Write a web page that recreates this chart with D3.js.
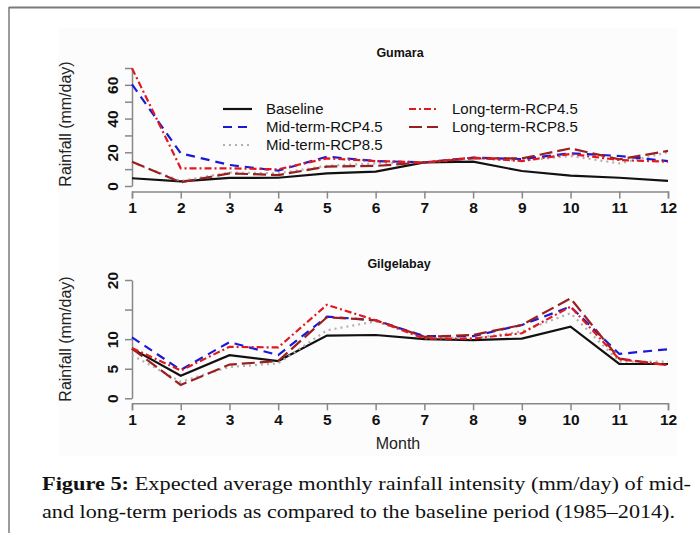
<!DOCTYPE html>
<html lang="en">
<head>
    <meta charset="UTF-8">
    <title>Expected average monthly rainfall intensity</title>
    <script src="https://d3js.org/d3.v7.min.js"></script>
    <style>
        body { margin: 0; background: #fff; }
        svg { display: block; }
        .tick-label { font-family: "Liberation Sans", Arial, sans-serif; font-size: 15.5px; font-weight: bold; fill: #111; }
        .ylab { font-family: "Liberation Sans", Arial, sans-serif; font-size: 16px; fill: #222; }
        .panel-title { font-family: "Liberation Sans", Arial, sans-serif; font-size: 12.5px; font-weight: bold; fill: #111; }
        .legend-text { font-family: "Liberation Sans", Arial, sans-serif; font-size: 15px; fill: #111; }
        .caption { font-family: "Liberation Serif", "Times New Roman", serif; font-size: 19px; fill: #111; }
    </style>
</head>
<body>
<svg id="chart" width="700" height="533"></svg>
<script>
// months on the x axis
const months = [1, 2, 3, 4, 5, 6, 7, 8, 9, 10, 11, 12];

// Gumara (mm/day)
const gumaraBaseline = [4.6, 2.8, 4.8, 4.9, 7.5, 8.5, 14.0, 14.4, 8.9, 6.1, 4.9, 3.0];
const gumaraMid45    = [60.3, 19.4, 12.5, 9.1, 17.4, 14.8, 14.0, 16.8, 16.0, 19.4, 17.8, 14.8];
const gumaraMid85    = [14.0, 3.0, 8.0, 7.5, 12.0, 13.4, 14.0, 16.5, 15.0, 17.8, 13.4, 20.0];
const gumaraLong45   = [69.8, 10.5, 10.5, 9.9, 16.4, 14.8, 14.0, 16.8, 14.8, 19.0, 15.4, 14.4];
const gumaraLong85   = [14.4, 2.2, 7.5, 6.5, 11.5, 11.9, 14.0, 16.4, 16.4, 22.3, 15.8, 20.8];

// Gilgelabay (mm/day)
const gilgelBaseline = [8.4, 3.8, 7.3, 6.3, 10.6, 10.7, 10.0, 9.85, 10.1, 12.1, 5.8, 5.8];
const gilgelMid45    = [10.3, 4.8, 9.5, 7.3, 13.8, 13.2, 10.5, 10.5, 12.4, 15.5, 7.5, 8.3];
const gilgelMid85    = [7.3, 2.8, 5.3, 5.9, 11.5, 13.0, 10.4, 10.1, 11.3, 14.4, 6.2, 6.2];
const gilgelLong45   = [8.5, 4.7, 8.7, 8.6, 15.8, 13.2, 10.1, 10.1, 11.0, 15.5, 6.6, 5.6];
const gilgelLong85   = [8.4, 2.25, 5.7, 6.3, 13.7, 13.2, 10.4, 10.7, 12.4, 16.9, 6.7, 5.6];

const seriesNames = ["Baseline", "Mid-term-RCP4.5", "Mid-term-RCP8.5", "Long-term-RCP4.5", "Long-term-RCP8.5"];

// line styles per series
const styles = {
    "Baseline":         { color: "#111111", dash: null,      width: 2.2 },
    "Mid-term-RCP4.5":  { color: "#1a1ad6", dash: "9,6",     width: 2.2 },
    "Mid-term-RCP8.5":  { color: "#b0b0b0", dash: "2,4",     width: 2.2 },
    "Long-term-RCP4.5": { color: "#e0191e", dash: "7,3,2,3", width: 2.2 },
    "Long-term-RCP8.5": { color: "#9a1f1f", dash: "13,5",    width: 2.2 }
};

const svg = d3.select("#chart");

// figure frame and plot image background
svg.append("rect").attr("x", 58).attr("y", 28).attr("width", 620).attr("height", 428).attr("fill", "#fcfcfc");
svg.append("line").attr("x1", 9).attr("x2", 700).attr("y1", 7.5).attr("y2", 7.5).attr("stroke", "#7a7a7a").attr("stroke-width", 2);
svg.append("line").attr("x1", 9).attr("x2", 9).attr("y1", 7).attr("y2", 533).attr("stroke", "#7a7a7a").attr("stroke-width", 1.5);

const x = d3.scaleLinear().domain([1, 12]).range([132, 668]);

function drawPanel(opts) {
    const g = svg.append("g");
    const y = opts.y;

    // x axis
    const xAxis = g.append("g")
        .attr("transform", `translate(0,${opts.xAxisY})`)
        .call(d3.axisBottom(x).tickValues(months).tickSize(7).tickFormat(d3.format("d")));
    xAxis.select(".domain").attr("stroke", "#888").attr("stroke-width", 1.5);
    xAxis.selectAll(".tick line").attr("stroke", "#888").attr("stroke-width", 1.5);
    xAxis.selectAll(".tick text").attr("class", "tick-label").attr("dy", "0.95em").attr("y", 7);

    // y axis
    const yAxis = g.append("g")
        .attr("transform", "translate(132,0)")
        .call(d3.axisLeft(y).tickValues(opts.yTicks).tickSize(7).tickSizeOuter(0)
            .tickFormat(d => opts.yLabels.includes(d) ? d : ""));
    yAxis.select(".domain").attr("stroke", "#888").attr("stroke-width", 1.5);
    yAxis.selectAll(".tick line").attr("stroke", "#888").attr("stroke-width", 1.5);
    yAxis.selectAll(".tick text")
        .attr("class", "tick-label")
        .attr("x", null)
        .attr("text-anchor", "middle")
        .attr("transform", "translate(-19,0) rotate(-90)")
        .attr("dy", "0.35em");

    // y label
    g.append("text")
        .attr("class", "ylab")
        .attr("text-anchor", "middle")
        .attr("transform", `translate(71,${opts.ylabY}) rotate(-90)`)
        .text("Rainfall (mm/day)");

    // title
    g.append("text")
        .attr("class", "panel-title")
        .attr("text-anchor", "middle")
        .attr("x", opts.titleX).attr("y", opts.titleY)
        .text(opts.title);

    const line = d3.line().x((d, i) => x(months[i])).y(d => y(d));

    const order = ["Baseline", "Mid-term-RCP8.5", "Mid-term-RCP4.5", "Long-term-RCP8.5", "Long-term-RCP4.5"];
    order.forEach(name => {
        const s = styles[name];
        g.append("path")
            .datum(opts.data[name])
            .attr("fill", "none")
            .attr("stroke", s.color)
            .attr("stroke-width", s.width)
            .attr("stroke-dasharray", s.dash)
            .attr("d", line);
    });
}

drawPanel({
    title: "Gumara", titleX: 400, titleY: 57,
    y: d3.scaleLinear().domain([0, 70]).range([186, 68]),
    yTicks: [0, 10, 20, 30, 40, 50, 60, 70],
    yLabels: [0, 20, 40, 60],
    xAxisY: 191.5, ylabY: 124,
    data: {
        "Baseline": gumaraBaseline,
        "Mid-term-RCP4.5": gumaraMid45,
        "Mid-term-RCP8.5": gumaraMid85,
        "Long-term-RCP4.5": gumaraLong45,
        "Long-term-RCP8.5": gumaraLong85
    }
});

drawPanel({
    title: "Gilgelabay", titleX: 399, titleY: 268,
    y: d3.scaleLinear().domain([0, 20]).range([398.3, 280]),
    yTicks: [0, 5, 10, 15, 20],
    yLabels: [0, 5, 10, 20],
    xAxisY: 403.3, ylabY: 339,
    data: {
        "Baseline": gilgelBaseline,
        "Mid-term-RCP4.5": gilgelMid45,
        "Mid-term-RCP8.5": gilgelMid85,
        "Long-term-RCP4.5": gilgelLong45,
        "Long-term-RCP8.5": gilgelLong85
    }
});

// x axis title
svg.append("text")
    .attr("class", "ylab")
    .attr("text-anchor", "middle")
    .attr("x", 398).attr("y", 449)
    .text("Month");

// legend, two columns like R's ncol = 2
const legendPos = [
    { lx: 223, y: 109 }, { lx: 223, y: 127 }, { lx: 223, y: 145 },
    { lx: 409, y: 109 }, { lx: 409, y: 127 }
];
const legend = svg.append("g");
seriesNames.forEach((name, i) => {
    const p = legendPos[i];
    const s = styles[name];
    legend.append("line")
        .attr("x1", p.lx).attr("x2", p.lx + 29)
        .attr("y1", p.y).attr("y2", p.y)
        .attr("stroke", s.color)
        .attr("stroke-width", s.width)
        .attr("stroke-dasharray", s.dash);
    legend.append("text")
        .attr("class", "legend-text")
        .attr("x", p.lx + 43).attr("y", p.y + 5)
        .text(name);
});

// caption
const cap1 = svg.append("text").attr("class", "caption").attr("x", 42).attr("y", 490)
    .attr("textLength", 649).attr("lengthAdjust", "spacingAndGlyphs");
cap1.append("tspan").attr("font-weight", "bold").text("Figure 5:");
cap1.append("tspan").text(" Expected average monthly rainfall intensity (mm/day) of mid-");
svg.append("text").attr("class", "caption").attr("x", 42).attr("y", 518)
    .attr("textLength", 633).attr("lengthAdjust", "spacingAndGlyphs")
    .text("and long-term periods as compared to the baseline period (1985\u20132014).");
</script>
</body>
</html>
